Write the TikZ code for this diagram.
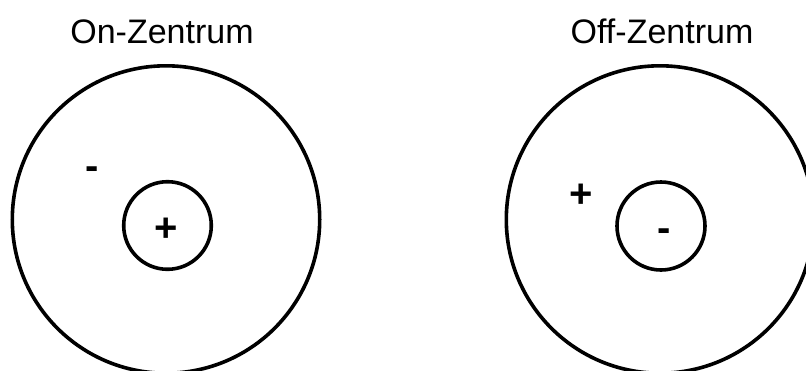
\documentclass[tikz,border=0pt]{standalone}
\usepackage{fontspec}
\setmainfont{Liberation Sans}
\begin{document}
\begin{tikzpicture}[x=1pt,y=-1pt,
  ring/.style={draw=black, line width=3.6pt, circle, minimum size=#1, inner sep=0pt},
  title/.style={anchor=base, inner sep=0pt, font=\fontsize{34}{38}\selectfont},
  sign/.style={anchor=base, inner sep=0pt, font=\fontsize{40}{44}\selectfont\bfseries}]
\useasboundingbox (0,0) rectangle (806,370);
\clip (0,0) rectangle (806,370);
\fill[white] (0,0) rectangle (806,370);
% titles
\node[title] (t1) at (162,43.5) {On-Zentrum};
\node[title] (t2) at (662,43.5) {Off-Zentrum};
% on-centre
\node[ring=307.4pt] (big1) at (166,219.5) {};
\node[ring=87.6pt] (small1) at (167.5,225.5) {};
\node[sign] (m1) at (92,179.7) {-};
\node[sign] (p1) at (166.5,241.6) {+};
% off-centre
\node[ring=307.4pt] (big2) at (660,219.5) {};
\node[ring=88pt] (small2) at (661,226) {};
\node[sign] (p2) at (580.8,207) {+};
\node[sign] (m2) at (664.5,241.3) {-};
\end{tikzpicture}
\end{document}
